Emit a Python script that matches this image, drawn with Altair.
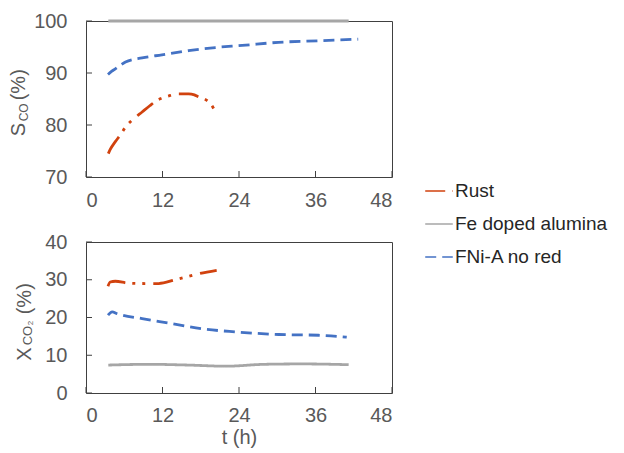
import altair as alt
import pandas as pd

FONT = "Liberation Sans"
LABEL_GRAY = "#595959"
FRAME = "#404040"

series_names = ["Rust", "Fe doped alumina", "FNi-A no red"]
series_colors = ["#D1420E", "#A6A6A6", "#4472C4"]
series_dash = [[20, 7, 3, 7, 3, 8], [1, 0], [11, 6]]

# Top panel: S_CO (%)
rust_s_t = [3.5, 3.8, 4.6, 5.4, 6.2, 7.5, 8.8, 10.0, 11.1, 13.0, 14.5, 16.1, 17.0, 17.7, 18.4, 19.0, 19.6, 20.1]
rust_s_v = [74.5, 75.3, 76.8, 78.1, 79.6, 81.2, 82.5, 83.7, 84.7, 85.6, 86.0, 86.0, 85.8, 85.4, 85.1, 84.7, 84.0, 83.0]
fe_s_t = [3.5, 10.0, 20.0, 30.0, 41.2]
fe_s_v = [100.0, 100.0, 100.0, 100.0, 100.0]
fni_s_t = [3.45, 4.0, 4.6, 5.4, 6.2, 8.8, 11.9, 16.1, 20.3, 24.5, 30.2, 36.5, 42.7]
fni_s_v = [89.7, 90.3, 90.8, 91.5, 92.1, 92.9, 93.5, 94.3, 94.9, 95.3, 95.9, 96.2, 96.5]

# Bottom panel: X_CO2 (%)
rust_x_t = [3.45, 3.8, 4.6, 6.7, 9.3, 11.4, 14.0, 16.1, 17.7, 20.5]
rust_x_v = [28.3, 29.4, 29.6, 29.1, 29.0, 29.0, 30.0, 30.9, 31.6, 32.5]
fe_x_t = [3.5, 10.0, 16.0, 22.0, 28.0, 34.0, 41.2]
fe_x_v = [7.4, 7.6, 7.4, 7.1, 7.6, 7.7, 7.5]
fni_x_t = [3.45, 4.1, 4.9, 8.8, 13.0, 18.2, 23.4, 30.2, 36.5, 40.9]
fni_x_v = [20.6, 21.5, 21.0, 19.7, 18.5, 17.0, 16.2, 15.5, 15.3, 14.8]

x_ticks = [0, 12, 24, 36, 48]
y_ticks_top = [70, 80, 90, 100]
y_ticks_bot = [0, 10, 20, 30, 40]

top_title = ["S", "CO", " (%)"]
bot_title = ["X", "CO", "2", " (%)"]
x_title = "t (h)"


def long_df(parts):
    rows = []
    for name, ts, vs in parts:
        for i, (t, v) in enumerate(zip(ts, vs)):
            rows.append({"t": t, "v": v, "series": name, "i": i})
    return pd.DataFrame(rows)


top_df = long_df([("Rust", rust_s_t, rust_s_v), ("Fe doped alumina", fe_s_t, fe_s_v),
                  ("FNi-A no red", fni_s_t, fni_s_v)])
bot_df = long_df([("Rust", rust_x_t, rust_x_v), ("Fe doped alumina", fe_x_t, fe_x_v),
                  ("FNi-A no red", fni_x_t, fni_x_v)])

legend = alt.Legend(
    title=None, orient="none", legendX=338, legendY=155,
    symbolType="stroke", symbolSize=760, symbolStrokeWidth=1.5,
    labelFontSize=19, labelFont=FONT, labelColor="#262626",
    rowPadding=8, labelOffset=1, labelLimit=400,
)


def xenc(title, lp):
    return alt.X("t:Q", scale=alt.Scale(domain=[0, 48], nice=False, zero=False),
                 axis=alt.Axis(values=x_ticks, title=title, titleFontSize=20,
                               titleFont=FONT, titleColor=LABEL_GRAY, titleFontWeight="normal",
                               titlePadding=2, labelPadding=lp, grid=False, ticks=False,
                               domain=False, labelFontSize=20, labelFont=FONT,
                               labelColor=LABEL_GRAY))


def yenc(dom, ticks):
    return alt.Y("v:Q", scale=alt.Scale(domain=dom, nice=False, zero=False),
                 axis=alt.Axis(values=ticks, title=None, labelPadding=19, grid=False,
                               ticks=False, domain=False, labelFontSize=20, labelFont=FONT,
                               labelColor=LABEL_GRAY))


def panel(df, dom, yticks, title_parts, h, xtitle, lp):
    lines = alt.Chart(df).mark_line(interpolate="monotone", strokeWidth=2.8).encode(
        x=xenc(xtitle, lp),
        y=yenc(dom, yticks),
        color=alt.Color("series:N", scale=alt.Scale(domain=series_names, range=series_colors),
                        legend=legend),
        strokeDash=alt.StrokeDash("series:N", scale=alt.Scale(domain=series_names, range=series_dash),
                                  legend=legend),
        detail="series:N",
        order="i:Q",
    )
    xt = alt.Chart(pd.DataFrame({"t": x_ticks})).mark_rule(color=FRAME, strokeWidth=1).encode(
        x=xenc(xtitle, lp), y=alt.value(h), y2=alt.value(h - 6))
    yt = alt.Chart(pd.DataFrame({"v": yticks})).mark_rule(color=FRAME, strokeWidth=1).encode(
        y=yenc(dom, yticks), x=alt.value(0), x2=alt.value(6))
    layers = [lines, xt, yt]
    for txt, size, px, py in title_parts:
        layers.append(
            alt.Chart(pd.DataFrame({"txt": [txt]})).mark_text(
                angle=270, align="left", baseline="alphabetic", font=FONT,
                fontSize=size, color=LABEL_GRAY).encode(
                text="txt:N", x=alt.value(px), y=alt.value(py))
        )
    return alt.layer(*layers).properties(width=306, height=h)


top = panel(top_df, [70, 100], y_ticks_top,
            [(top_title[0], 20, -61, 115.3), (top_title[1], 12, -58, 100.3), (top_title[2], 20, -61, 79.3)],
            156, None, 13)
bot = panel(bot_df, [0, 40], y_ticks_bot,
            [(bot_title[0], 20, -55.5, 118.8), (bot_title[1], 13, -54.5, 103.3),
             (bot_title[2], 8, -53, 83.3), (bot_title[3], 20, -55.5, 72.3)],
            151, x_title, 12)

chart = alt.vconcat(top, bot, spacing=20).properties(
    padding={"left": 0, "top": 2, "right": 0, "bottom": 0},
    background="white",
).configure_view(stroke=FRAME, strokeWidth=1)

chart.save("out.html", embed_options={"renderer": "svg", "actions": False})
